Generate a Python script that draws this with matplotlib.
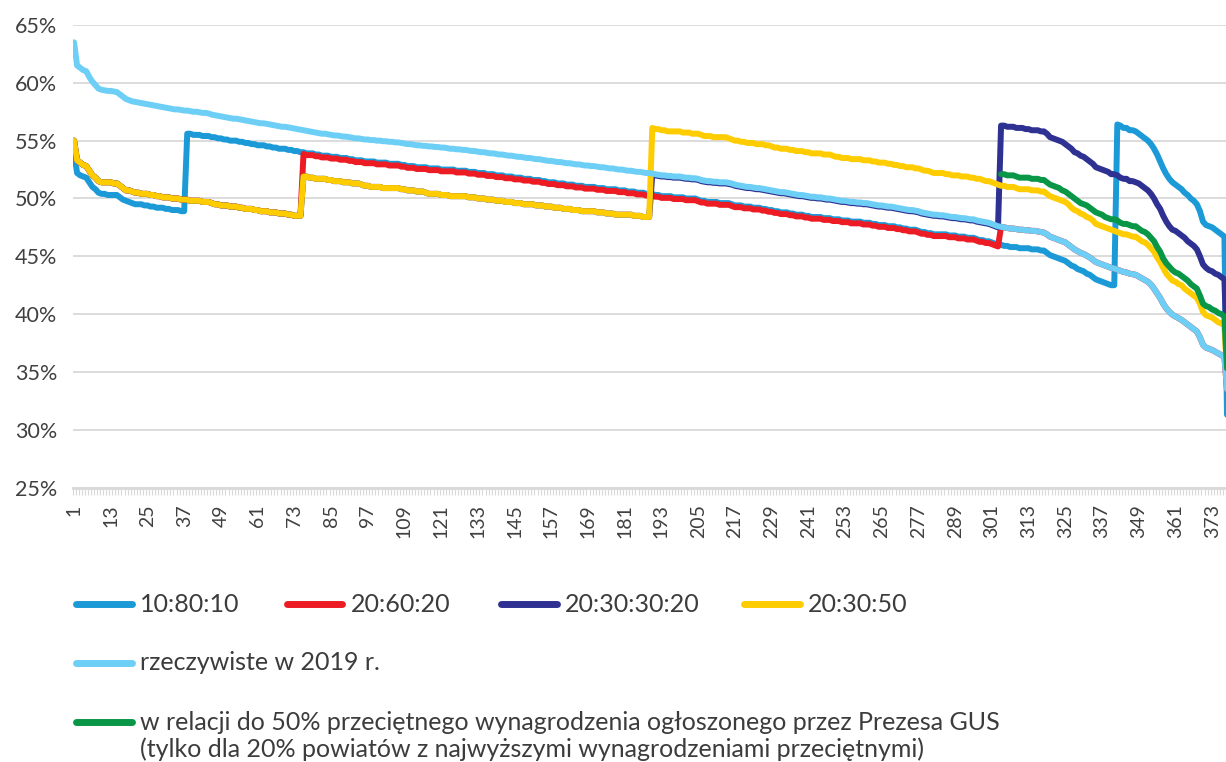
import numpy as np
import matplotlib.pyplot as plt
from matplotlib.lines import Line2D

plt.rcParams['font.family'] = ['Lato', 'DejaVu Sans']

W, H = 1226, 762

# ratio of minimum wage to average wage per powiat (%), powiats sorted by the 2019 ratio
real_2019 = [
    63.5, 61.5, 61.3, 61.1, 61.0, 60.5, 60.1, 59.8, 59.5, 59.4,
    59.35, 59.3, 59.3, 59.25, 59.2, 59.0, 58.8, 58.6, 58.5, 58.4,
    58.35, 58.3, 58.25, 58.2, 58.15, 58.1, 58.05, 58.0, 57.95, 57.9,
    57.85, 57.8, 57.75, 57.7, 57.7, 57.65, 57.6, 57.6, 57.55, 57.5,
    57.5, 57.45, 57.4, 57.4, 57.35, 57.25, 57.2, 57.15, 57.1, 57.05,
    57.0, 56.95, 56.9, 56.9, 56.85, 56.8, 56.75, 56.7, 56.65, 56.6,
    56.55, 56.5, 56.5, 56.45, 56.4, 56.35, 56.3, 56.25, 56.2, 56.2,
    56.15, 56.1, 56.05, 56.0, 55.95, 55.9, 55.85, 55.8, 55.75, 55.7,
    55.65, 55.6, 55.6, 55.55, 55.5, 55.45, 55.45, 55.4, 55.35, 55.35,
    55.3, 55.25, 55.2, 55.2, 55.15, 55.1, 55.1, 55.05, 55.05, 55.0,
    55.0, 54.95, 54.95, 54.9, 54.9, 54.85, 54.85, 54.8, 54.75, 54.7,
    54.7, 54.65, 54.6, 54.6, 54.55, 54.55, 54.5, 54.5, 54.45, 54.45,
    54.4, 54.4, 54.35, 54.3, 54.3, 54.25, 54.25, 54.2, 54.2, 54.15,
    54.1, 54.1, 54.05, 54.0, 54.0, 53.95, 53.9, 53.9, 53.85, 53.8,
    53.8, 53.75, 53.7, 53.7, 53.65, 53.6, 53.6, 53.55, 53.5, 53.5,
    53.45, 53.4, 53.4, 53.35, 53.3, 53.25, 53.25, 53.2, 53.15, 53.15,
    53.1, 53.05, 53.05, 53.0, 52.95, 52.95, 52.9, 52.85, 52.85, 52.8,
    52.8, 52.75, 52.7, 52.7, 52.65, 52.6, 52.6, 52.55, 52.5, 52.5,
    52.45, 52.4, 52.4, 52.35, 52.3, 52.3, 52.25, 52.2, 52.2, 52.15,
    52.1, 52.05, 52.0, 52.0, 51.95, 51.95, 51.9, 51.9, 51.9, 51.85,
    51.8, 51.8, 51.75, 51.75, 51.7, 51.6, 51.55, 51.5, 51.5, 51.45,
    51.45, 51.4, 51.4, 51.4, 51.35, 51.3, 51.2, 51.15, 51.1, 51.05,
    51.0, 51.0, 50.95, 50.9, 50.9, 50.85, 50.8, 50.75, 50.7, 50.65,
    50.6, 50.55, 50.55, 50.5, 50.45, 50.4, 50.35, 50.3, 50.3, 50.25,
    50.2, 50.15, 50.15, 50.1, 50.1, 50.05, 50.0, 50.0, 49.95, 49.9,
    49.85, 49.8, 49.8, 49.75, 49.7, 49.7, 49.65, 49.65, 49.6, 49.6,
    49.55, 49.5, 49.45, 49.4, 49.4, 49.35, 49.3, 49.3, 49.25, 49.2,
    49.15, 49.1, 49.05, 49.0, 49.0, 48.95, 48.9, 48.8, 48.75, 48.7,
    48.65, 48.6, 48.6, 48.55, 48.55, 48.5, 48.45, 48.4, 48.4, 48.35,
    48.3, 48.3, 48.25, 48.2, 48.2, 48.1, 48.05, 48.0, 47.95, 47.9,
    47.8, 47.7, 47.6, 47.55, 47.5, 47.45, 47.4, 47.4, 47.35, 47.3,
    47.3, 47.25, 47.25, 47.2, 47.2, 47.15, 47.1, 47.05, 46.9, 46.7,
    46.6, 46.5, 46.4, 46.3, 46.2, 46.0, 45.8, 45.6, 45.45, 45.3,
    45.2, 45.05, 44.9, 44.7, 44.5, 44.4, 44.3, 44.2, 44.1, 44.0,
    43.95, 43.85, 43.75, 43.65, 43.6, 43.5, 43.45, 43.4, 43.25, 43.1,
    42.95, 42.8, 42.55, 42.2, 41.8, 41.4, 40.9, 40.5, 40.2, 39.95,
    39.8, 39.65, 39.5, 39.3, 39.1, 38.9, 38.7, 38.5, 38.0, 37.35,
    37.1, 37.0, 36.9, 36.75, 36.6, 36.45, 36.3, 33.0,
]

# 10:80:10 -> groups: powiats 1-37, 38-341, 342-378
s10_low = [
    54.0, 52.2, 52.0, 51.9, 51.8, 51.4, 51.0, 50.8, 50.5, 50.4,
    50.4, 50.3, 50.3, 50.3, 50.3, 50.1, 49.9, 49.8, 49.7, 49.6,
    49.5, 49.5, 49.5, 49.4, 49.4, 49.3, 49.3, 49.2, 49.2, 49.2,
    49.1, 49.1, 49.0, 49.0, 49.0, 48.9, 48.9,
]
s10_mid = [
    55.6, 55.6, 55.5, 55.5, 55.5, 55.4, 55.4, 55.4, 55.3, 55.3,
    55.2, 55.2, 55.1, 55.1, 55.0, 55.0, 55.0, 54.9, 54.9, 54.8,
    54.8, 54.7, 54.7, 54.6, 54.6, 54.6, 54.5, 54.5, 54.4, 54.4,
    54.3, 54.3, 54.3, 54.2, 54.2, 54.1, 54.1, 54.0, 54.0, 53.9,
    53.9, 53.9, 53.8, 53.8, 53.7, 53.7, 53.7, 53.6, 53.6, 53.6,
    53.5, 53.5, 53.5, 53.4, 53.4, 53.3, 53.3, 53.3, 53.2, 53.2,
    53.2, 53.2, 53.1, 53.1, 53.1, 53.1, 53.0, 53.0, 53.0, 53.0,
    52.9, 52.9, 52.8, 52.8, 52.8, 52.7, 52.7, 52.7, 52.7, 52.6,
    52.6, 52.6, 52.6, 52.5, 52.5, 52.5, 52.5, 52.5, 52.4, 52.4,
    52.4, 52.4, 52.3, 52.3, 52.3, 52.2, 52.2, 52.2, 52.1, 52.1,
    52.1, 52.0, 52.0, 52.0, 51.9, 51.9, 51.9, 51.8, 51.8, 51.8,
    51.7, 51.7, 51.7, 51.6, 51.6, 51.6, 51.5, 51.5, 51.4, 51.4,
    51.4, 51.3, 51.3, 51.3, 51.2, 51.2, 51.2, 51.1, 51.1, 51.1,
    51.0, 51.0, 51.0, 51.0, 50.9, 50.9, 50.9, 50.8, 50.8, 50.8,
    50.8, 50.7, 50.7, 50.7, 50.6, 50.6, 50.6, 50.5, 50.5, 50.5,
    50.4, 50.4, 50.4, 50.3, 50.3, 50.2, 50.2, 50.2, 50.2, 50.1,
    50.1, 50.1, 50.1, 50.0, 50.0, 50.0, 50.0, 49.9, 49.8, 49.8,
    49.7, 49.7, 49.7, 49.7, 49.6, 49.6, 49.6, 49.6, 49.5, 49.4,
    49.4, 49.4, 49.3, 49.3, 49.3, 49.2, 49.2, 49.2, 49.1, 49.1,
    49.0, 49.0, 48.9, 48.9, 48.8, 48.8, 48.8, 48.7, 48.7, 48.6,
    48.6, 48.6, 48.5, 48.5, 48.4, 48.4, 48.4, 48.4, 48.3, 48.3,
    48.3, 48.2, 48.2, 48.2, 48.1, 48.1, 48.1, 48.0, 48.0, 48.0,
    48.0, 47.9, 47.9, 47.9, 47.8, 47.8, 47.7, 47.7, 47.7, 47.6,
    47.6, 47.6, 47.5, 47.5, 47.4, 47.4, 47.3, 47.3, 47.3, 47.2,
    47.1, 47.1, 47.0, 47.0, 46.9, 46.9, 46.9, 46.9, 46.9, 46.8,
    46.8, 46.8, 46.7, 46.7, 46.7, 46.6, 46.6, 46.6, 46.5, 46.4,
    46.4, 46.3, 46.3, 46.2, 46.1, 46.0, 46.0, 45.9, 45.9, 45.8,
    45.8, 45.8, 45.7, 45.7, 45.7, 45.7, 45.6, 45.6, 45.6, 45.5,
    45.5, 45.3, 45.1, 45.0, 44.9, 44.8, 44.7, 44.6, 44.4, 44.2,
    44.1, 43.9, 43.8, 43.7, 43.5, 43.4, 43.2, 43.0, 42.9, 42.8,
    42.7, 42.6, 42.5, 42.5,
]
s10_top = [
    56.4, 56.3, 56.1, 56.1, 55.9, 55.9, 55.8, 55.6, 55.4, 55.2,
    55.0, 54.7, 54.3, 53.8, 53.2, 52.6, 52.1, 51.7, 51.4, 51.2,
    51.0, 50.8, 50.5, 50.3, 50.0, 49.8, 49.5, 48.9, 48.0, 47.7,
    47.6, 47.5, 47.3, 47.1, 46.9, 46.7, 28.5,
]

# bottom 20% (powiats 1-75): same level in 20:60:20, 20:30:30:20 and 20:30:50
bottom20 = [
    55.0, 53.3, 53.1, 52.9, 52.8, 52.4, 52.0, 51.8, 51.5, 51.4,
    51.4, 51.4, 51.4, 51.3, 51.3, 51.1, 50.9, 50.7, 50.7, 50.6,
    50.5, 50.5, 50.4, 50.4, 50.4, 50.3, 50.3, 50.2, 50.2, 50.1,
    50.1, 50.1, 50.0, 50.0, 50.0, 49.9, 49.9, 49.9, 49.8, 49.8,
    49.8, 49.8, 49.7, 49.7, 49.7, 49.6, 49.5, 49.5, 49.4, 49.4,
    49.4, 49.3, 49.3, 49.3, 49.2, 49.2, 49.1, 49.1, 49.1, 49.0,
    49.0, 48.9, 48.9, 48.9, 48.8, 48.8, 48.8, 48.7, 48.7, 48.7,
    48.6, 48.6, 48.5, 48.5, 48.5,
]
# next 30% (powiats 76-189): same in 20:30:30:20 and 20:30:50
next30 = [
    51.9, 51.9, 51.8, 51.8, 51.7, 51.7, 51.7, 51.7, 51.6, 51.6,
    51.5, 51.5, 51.5, 51.4, 51.4, 51.4, 51.3, 51.3, 51.3, 51.2,
    51.1, 51.1, 51.0, 51.0, 51.0, 51.0, 50.9, 50.9, 50.9, 50.9,
    50.9, 50.9, 50.8, 50.8, 50.7, 50.7, 50.7, 50.6, 50.6, 50.6,
    50.5, 50.4, 50.4, 50.4, 50.4, 50.3, 50.3, 50.3, 50.2, 50.2,
    50.2, 50.2, 50.2, 50.2, 50.1, 50.1, 50.1, 50.0, 50.0, 50.0,
    49.9, 49.9, 49.9, 49.8, 49.8, 49.8, 49.7, 49.7, 49.7, 49.6,
    49.6, 49.6, 49.5, 49.5, 49.5, 49.5, 49.4, 49.4, 49.4, 49.3,
    49.3, 49.3, 49.2, 49.2, 49.2, 49.1, 49.1, 49.1, 49.0, 49.0,
    49.0, 48.9, 48.9, 48.9, 48.9, 48.9, 48.8, 48.8, 48.8, 48.7,
    48.7, 48.7, 48.6, 48.6, 48.6, 48.6, 48.6, 48.6, 48.5, 48.5,
    48.5, 48.4, 48.4, 48.4,
]
# 20:60:20 middle group (powiats 76-303)
s20_60_mid = [
    53.85, 53.75,
    53.75, 53.75, 53.65, 53.65, 53.55, 53.55, 53.55, 53.45, 53.45, 53.45,
    53.35, 53.35, 53.35, 53.25, 53.25, 53.15, 53.15, 53.15, 53.05, 53.05,
    53.05, 53.05, 52.95, 52.95, 52.95, 52.95, 52.85, 52.85, 52.85, 52.85,
    52.75, 52.75, 52.65, 52.65, 52.65, 52.55, 52.55, 52.55, 52.55, 52.45,
    52.45, 52.45, 52.45, 52.35, 52.35, 52.35, 52.35, 52.35, 52.25, 52.25,
    52.25, 52.25, 52.15, 52.15, 52.15, 52.05, 52.05, 52.05, 51.95, 51.95,
    51.95, 51.85, 51.85, 51.85, 51.75, 51.75, 51.75, 51.65, 51.65, 51.65,
    51.55, 51.55, 51.55, 51.45, 51.45, 51.45, 51.35, 51.35, 51.25, 51.25,
    51.25, 51.15, 51.15, 51.15, 51.05, 51.05, 51.05, 50.95, 50.95, 50.95,
    50.85, 50.85, 50.85, 50.85, 50.75, 50.75, 50.75, 50.65, 50.65, 50.65,
    50.65, 50.55, 50.55, 50.55, 50.45, 50.45, 50.45, 50.35, 50.35, 50.35,
    50.25, 50.25, 50.25, 50.15, 50.15, 50.05, 50.05, 50.05, 50.05, 49.95,
    49.95, 49.95, 49.95, 49.85, 49.85, 49.85, 49.85, 49.75, 49.65, 49.65,
    49.55, 49.55, 49.55, 49.55, 49.45, 49.45, 49.45, 49.45, 49.35, 49.25,
    49.25, 49.25, 49.15, 49.15, 49.15, 49.05, 49.05, 49.05, 48.95, 48.95,
    48.85, 48.85, 48.75, 48.75, 48.65, 48.65, 48.65, 48.55, 48.55, 48.45,
    48.45, 48.45, 48.35, 48.35, 48.25, 48.25, 48.25, 48.25, 48.15, 48.15,
    48.15, 48.05, 48.05, 48.05, 47.95, 47.95, 47.95, 47.85, 47.85, 47.85,
    47.85, 47.75, 47.75, 47.75, 47.65, 47.65, 47.55, 47.55, 47.55, 47.45,
    47.45, 47.45, 47.35, 47.35, 47.25, 47.25, 47.15, 47.15, 47.15, 47.05,
    46.95, 46.95, 46.85, 46.85, 46.75, 46.75, 46.75, 46.75, 46.75, 46.65,
    46.65, 46.65, 46.55, 46.55, 46.55, 46.45, 46.45, 46.45, 46.35, 46.25,
    46.25, 46.15, 46.15, 46.05, 45.95, 45.85,
]
# 20:30:30:20 third group (powiats 190-303)
s20_30_30_third = [
    52.05, 52.0, 51.95, 51.9, 51.9, 51.85, 51.85, 51.8, 51.8, 51.8,
    51.75, 51.7, 51.7, 51.65, 51.65, 51.6, 51.5, 51.45, 51.4, 51.4,
    51.35, 51.35, 51.3, 51.3, 51.3, 51.25, 51.2, 51.1, 51.05, 51.0,
    50.95, 50.9, 50.9, 50.85, 50.8, 50.8, 50.75, 50.7, 50.65, 50.6,
    50.55, 50.5, 50.45, 50.45, 50.4, 50.35, 50.3, 50.25, 50.2, 50.2,
    50.15, 50.1, 50.05, 50.05, 50.0, 50.0, 49.95, 49.9, 49.9, 49.85,
    49.8, 49.75, 49.7, 49.7, 49.65, 49.6, 49.6, 49.55, 49.55, 49.5,
    49.5, 49.45, 49.4, 49.35, 49.3, 49.3, 49.25, 49.2, 49.2, 49.15,
    49.1, 49.05, 49.0, 48.95, 48.9, 48.9, 48.85, 48.8, 48.7, 48.65,
    48.6, 48.55, 48.5, 48.5, 48.45, 48.45, 48.4, 48.35, 48.3, 48.3,
    48.25, 48.2, 48.2, 48.15, 48.1, 48.1, 48.0, 47.95, 47.9, 47.85,
    47.8, 47.7, 47.6, 47.5,
]
# top 20% (powiats 304-378) in 20:30:30:20
s20_30_30_top = [
    56.3, 56.3, 56.2, 56.2, 56.2, 56.1, 56.1, 56.1, 56.0, 56.0,
    55.9, 55.9, 55.9, 55.8, 55.8, 55.6, 55.3, 55.2, 55.1, 55.0,
    54.9, 54.7, 54.5, 54.3, 54.0, 53.9, 53.7, 53.6, 53.4, 53.2,
    53.0, 52.7, 52.6, 52.5, 52.4, 52.3, 52.1, 52.1, 52.0, 51.8,
    51.7, 51.7, 51.5, 51.5, 51.4, 51.3, 51.1, 50.9, 50.7, 50.4,
    50.0, 49.5, 49.1, 48.5, 48.0, 47.6, 47.3, 47.2, 47.0, 46.8,
    46.6, 46.3, 46.1, 45.9, 45.6, 45.0, 44.3, 44.0, 43.8, 43.7,
    43.5, 43.4, 43.2, 43.0, 35.0,
]
# 20:30:50 top half (powiats 190-378)
s20_30_50_top = [
    56.1, 56.0, 56.0, 55.9, 55.9, 55.8, 55.8, 55.8, 55.8, 55.8,
    55.7, 55.7, 55.7, 55.6, 55.6, 55.6, 55.5, 55.4, 55.4, 55.4,
    55.3, 55.3, 55.3, 55.3, 55.3, 55.2, 55.1, 55.0, 55.0, 54.9,
    54.9, 54.8, 54.8, 54.8, 54.7, 54.7, 54.7, 54.6, 54.6, 54.5,
    54.4, 54.4, 54.3, 54.3, 54.3, 54.2, 54.2, 54.1, 54.1, 54.1,
    54.0, 54.0, 53.9, 53.9, 53.9, 53.9, 53.8, 53.8, 53.8, 53.7,
    53.6, 53.6, 53.5, 53.5, 53.5, 53.4, 53.4, 53.4, 53.4, 53.3,
    53.3, 53.3, 53.2, 53.2, 53.1, 53.1, 53.1, 53.0, 53.0, 52.9,
    52.9, 52.8, 52.8, 52.7, 52.7, 52.7, 52.6, 52.6, 52.5, 52.4,
    52.4, 52.3, 52.2, 52.2, 52.2, 52.2, 52.1, 52.1, 52.0, 52.0,
    52.0, 51.9, 51.9, 51.9, 51.8, 51.8, 51.7, 51.7, 51.6, 51.5,
    51.5, 51.4, 51.3, 51.2, 51.1, 51.1, 51.0, 51.0, 51.0, 50.9,
    50.8, 50.8, 50.8, 50.8, 50.7, 50.7, 50.7, 50.6, 50.6, 50.4,
    50.2, 50.1, 50.0, 49.9, 49.8, 49.7, 49.5, 49.2, 49.0, 48.9,
    48.7, 48.6, 48.4, 48.3, 48.1, 47.8, 47.7, 47.6, 47.5, 47.4,
    47.3, 47.2, 47.1, 47.0, 46.9, 46.9, 46.8, 46.7, 46.7, 46.5,
    46.3, 46.2, 46.0, 45.7, 45.4, 44.9, 44.5, 44.0, 43.5, 43.2,
    42.9, 42.8, 42.6, 42.5, 42.2, 42.0, 41.8, 41.6, 41.4, 40.9,
    40.2, 39.9, 39.8, 39.7, 39.5, 39.3, 39.2, 39.0, 34.0,
]
# relative to 50% of the GUS average wage, only top 20% (powiats 304-378)
gus50_top = [
    52.1, 52.1, 52.0, 52.0, 52.0, 51.9, 51.8, 51.8, 51.8, 51.8,
    51.7, 51.7, 51.7, 51.6, 51.6, 51.4, 51.2, 51.1, 51.0, 50.9,
    50.7, 50.6, 50.4, 50.2, 50.0, 49.8, 49.6, 49.5, 49.4, 49.2,
    49.0, 48.8, 48.7, 48.6, 48.4, 48.3, 48.2, 48.2, 48.1, 47.9,
    47.8, 47.8, 47.7, 47.6, 47.6, 47.4, 47.2, 47.1, 46.9, 46.6,
    46.3, 45.8, 45.4, 44.8, 44.4, 44.1, 43.8, 43.6, 43.5, 43.3,
    43.1, 42.9, 42.6, 42.4, 42.2, 41.6, 40.9, 40.7, 40.6, 40.4,
    40.3, 40.1, 40.0, 39.8, 34.5,
]

positions = np.arange(1, len(real_2019) + 1)
label_positions = positions[::12]

series = [
    ('10:80:10', '#1B9AD7', s10_low + s10_mid + s10_top),
    ('20:60:20', '#ED1C24', bottom20 + s20_60_mid + real_2019[303:]),
    ('20:30:30:20', '#2E3192', bottom20 + next30 + s20_30_30_third + s20_30_30_top),
    ('20:30:50', '#FFCC00', bottom20 + next30 + s20_30_50_top),
    ('rzeczywiste w 2019 r.', '#6DCFF6', real_2019),
]
green = '#0A9647'
green_label = ['w relacji do 50% przeciętnego wynagrodzenia ogłoszonego przez Prezesa GUS',
               '(tylko dla 20% powiatów z najwyższymi wynagrodzeniami przeciętnymi)']

fig = plt.figure(figsize=(W / 100, H / 100), dpi=100)
ax = fig.add_axes([72.5 / W, 1 - 487.6 / H, (1229 - 72.5) / W, (487.6 - 25) / H])

line_kw = dict(lw=4.3, solid_joinstyle='round', solid_capstyle='round')
for name, color, values in series:
    ax.plot(positions, values, color=color, **line_kw)
ax.plot(positions[303:], gus50_top, color=green, **line_kw)

ax.set_xlim(0.5, len(positions) + 0.5)
ax.set_ylim(25, 65)

yticks = np.arange(25, 66, 5)
ax.set_yticks(yticks)
ax.set_yticklabels([f'{v}%' for v in yticks])
ax.tick_params(axis='y', length=0, pad=11, labelsize=15.5, labelcolor='#404040')
ax.grid(axis='y', color='#D9D9D9', lw=1.3)
ax.set_axisbelow(True)

ax.set_xticks(label_positions)
ax.set_xticklabels([str(p) for p in label_positions], rotation=90)
ax.set_xticks(np.arange(0.5, len(positions) + 1), minor=True)
ax.tick_params(axis='x', which='major', length=0, pad=12, labelsize=14, labelcolor='#404040')
ax.tick_params(axis='x', which='minor', length=4.7, width=0.8, color='#D9D9D9', direction='out')

for side in ['left', 'right', 'top']:
    ax.spines[side].set_visible(False)
ax.spines['bottom'].set_color('#D9D9D9')
ax.spines['bottom'].set_linewidth(2)

legend_size = 18


def legend_item(x0, y, color, text):
    fig.add_artist(Line2D([(x0 + 3.5) / W, (x0 + 59.5) / W], [1 - y / H] * 2,
                          color=color, lw=5, solid_capstyle='round',
                          transform=fig.transFigure))
    fig.text((x0 + 68) / W, 1 - y / H, text, fontsize=legend_size, color='#3C3C3C',
             va='center', ha='left')


for (name, color, _), x0 in zip(series[:4], [72, 283, 497, 740]):
    legend_item(x0, 604, color, name)
legend_item(72, 663, series[4][1], series[4][0])
legend_item(72, 722, green, green_label[0])
fig.text(140 / W, 1 - 749 / H, green_label[1], fontsize=legend_size, color='#3C3C3C',
         va='center', ha='left')

fig.savefig('out.png', dpi=100)
